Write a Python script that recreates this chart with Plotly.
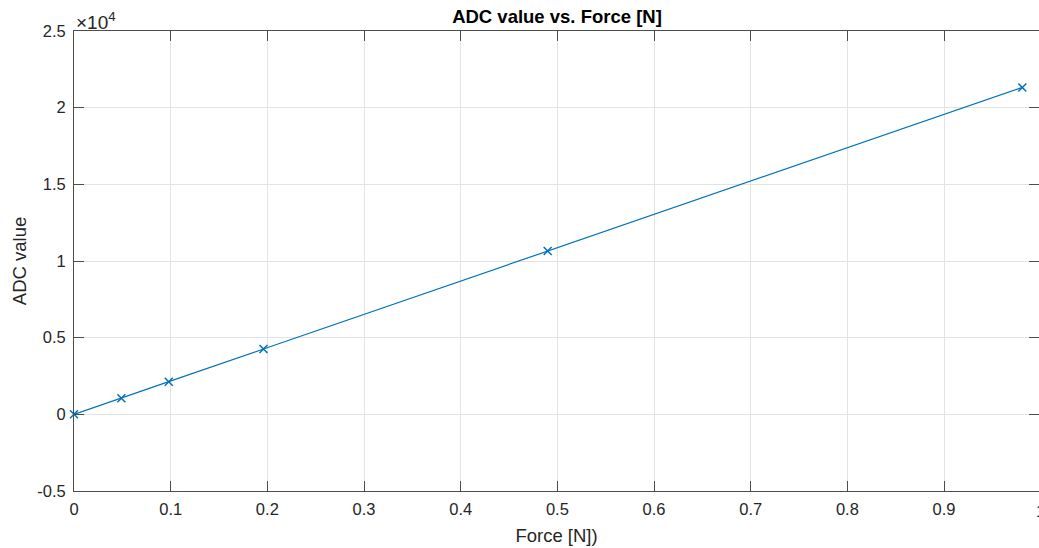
import plotly.graph_objects as go

force_n = [0.0, 0.049, 0.098, 0.196, 0.49, 0.981]
adc_value = [0, 1050, 2130, 4260, 10650, 21320]

x_ticks = [0, 0.1, 0.2, 0.3, 0.4, 0.5, 0.6, 0.7, 0.8, 0.9]
x_tick_text = ["0", "0.1", "0.2", "0.3", "0.4", "0.5", "0.6", "0.7", "0.8", "0.9"]
y_ticks = [-5000, 0, 5000, 10000, 15000, 20000, 25000]
y_tick_text = ["-0.5", "0", "0.5", "1", "1.5", "2", "2.5"]

W, H = 1039, 548
ML, MR, MT, MB = 74, 0, 31, 57
PW = W - ML - MR
PX_PER_UNIT = 966.7
x_max = PW / PX_PER_UNIT

FONT = "Liberation Sans, Arial, Helvetica, sans-serif"
TXT = "#262626"
AX = "#4d4d4d"
GRID = "#e3e3e3"
BLUE = "#0072BD"

fig = go.Figure()
fig.add_trace(go.Scatter(
    x=force_n, y=adc_value, mode="lines+markers",
    line=dict(color=BLUE, width=1.2),
    marker=dict(symbol="x-thin", size=8, line=dict(color=BLUE, width=1.5), color=BLUE),
    showlegend=False, cliponaxis=False,
))
# invisible trace to carry the right-side tick axis
fig.add_trace(go.Scatter(x=[0], y=[0], yaxis="y2", mode="markers",
                         marker=dict(opacity=0), showlegend=False, hoverinfo="skip"))

fig.update_layout(
    width=W, height=H,
    margin=dict(l=ML, r=MR, t=MT, b=MB, pad=0),
    paper_bgcolor="white", plot_bgcolor="white",
    font=dict(family=FONT, size=16.5, color=TXT),
    title=dict(text="<b>ADC value vs. Force [N]</b>", x=(ML + 483) / W, xanchor="center",
               y=1 - 17 / H, yanchor="middle", font=dict(size=18.5, color="#000000")),
    xaxis=dict(
        range=[0, x_max], tickvals=x_ticks, ticktext=x_tick_text,
        showgrid=True, gridcolor=GRID, gridwidth=1, zeroline=False,
        showline=True, linecolor=AX, linewidth=1, mirror="ticks",
        ticks="inside", ticklen=10, tickcolor=AX, tickwidth=1,
        tickfont=dict(size=16.5, color=TXT), ticklabelstandoff=3,
        title=dict(text="Force [N])", font=dict(size=18.5, color=TXT), standoff=12),
    ),
    yaxis=dict(
        range=[-5000, 25000], tickvals=y_ticks, ticktext=y_tick_text,
        showgrid=True, gridcolor=GRID, gridwidth=1, zeroline=False,
        showline=True, linecolor=AX, linewidth=1,
        ticks="inside", ticklen=10, tickcolor=AX, tickwidth=1,
        tickfont=dict(size=16.5, color=TXT), ticklabelstandoff=4,
        title=dict(text="ADC value", font=dict(size=18.5, color=TXT), standoff=5),
    ),
    yaxis2=dict(
        range=[-5000, 25000], tickvals=y_ticks, overlaying="y", side="right",
        anchor="x", showgrid=False, zeroline=False, showline=False,
        ticks="inside", ticklen=10, tickcolor=AX, tickwidth=1, showticklabels=False,
    ),
    annotations=[
        dict(text="×10<sup>4</sup>", xref="paper", yref="paper", x=0, y=1,
             xanchor="left", yanchor="bottom", showarrow=False,
             font=dict(size=19, color=TXT), xshift=0, yshift=-4),
        dict(text="1", xref="paper", yref="paper", x=PX_PER_UNIT / PW, y=0,
             xanchor="center", yanchor="top", showarrow=False,
             font=dict(size=16.5, color=TXT), yshift=-9),
    ],
)

fig.write_html("out.html")
